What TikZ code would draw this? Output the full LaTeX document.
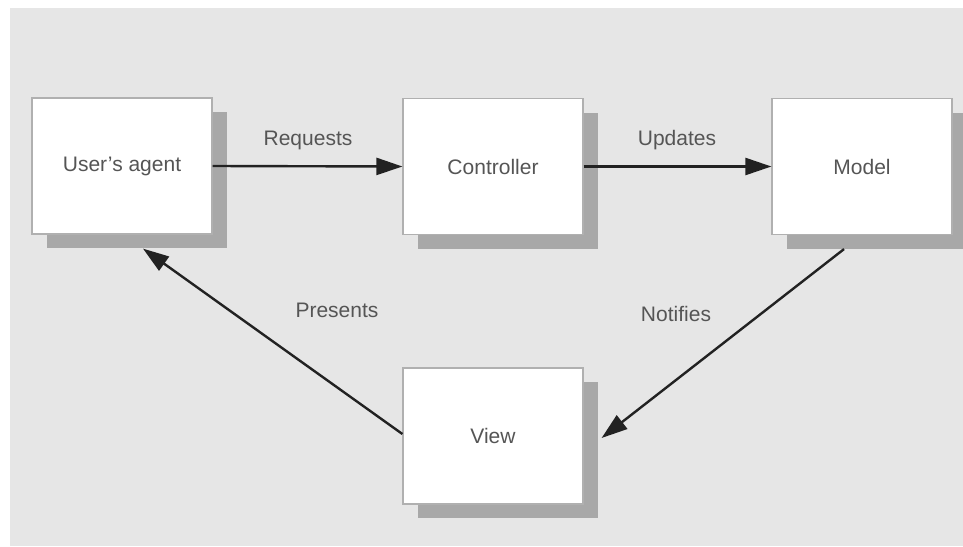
\documentclass[tikz,border=0pt]{standalone}
\usepackage{fontspec}
\setmainfont{Liberation Sans}
\usetikzlibrary{arrows.meta,shadows,calc}
\definecolor{panel}{HTML}{E6E6E6}
\definecolor{shade}{HTML}{A8A8A8}
\definecolor{rim}{HTML}{B0B0B0}
\definecolor{ink}{HTML}{555555}
\definecolor{wire}{HTML}{222222}
\begin{document}
\begin{tikzpicture}[x=1pt,y=-1pt,
  block/.style={draw=rim, line width=1.2pt, fill=white, minimum width=180pt, minimum height=136pt,
    inner sep=0pt, text=ink, font=\fontsize{21}{25}\selectfont,
    drop shadow={shadow xshift=15pt, shadow yshift=-14pt, fill=shade, opacity=1}},
  flow/.style={draw=wire, line width=2.4pt, -{Triangle[length=26pt,width=17pt]}},
  tag/.style={text=ink, font=\fontsize{21}{25}\selectfont}]
  \useasboundingbox (0,0) rectangle (963,546);
  \fill[panel] (10,8) rectangle (963,546);

  \node[block] (agent) at (122,166) {User's agent};
  \node[block] (ctrl) at (493,166.5) {Controller};
  \node[block] (model) at (862,166.5) {Model};
  \node[block] (view) at (493,436) {View};

  \coordinate (mfoot) at ($(model.south)+(-18,14)$);
  \coordinate (vside) at ($(view.east)+(18,2)$);
  \coordinate (afoot) at ($(agent.south)+(21,14)$);

  \draw[flow] (agent.east) -- (ctrl.west);
  \draw[flow] (ctrl.east) -- (model.west);
  \draw[flow] (mfoot) -- (vside);
  \draw[flow] ($(view.west)+(0,-2)$) -- (afoot);

  \node[tag] (lreq) at (308,140) {Requests};
  \node[tag] (lupd) at (677,140) {Updates};
  \node[tag] (lpre) at (337,310) {Presents};
  \node[tag] (lnot) at (676,314) {Notifies};
\end{tikzpicture}
\end{document}
